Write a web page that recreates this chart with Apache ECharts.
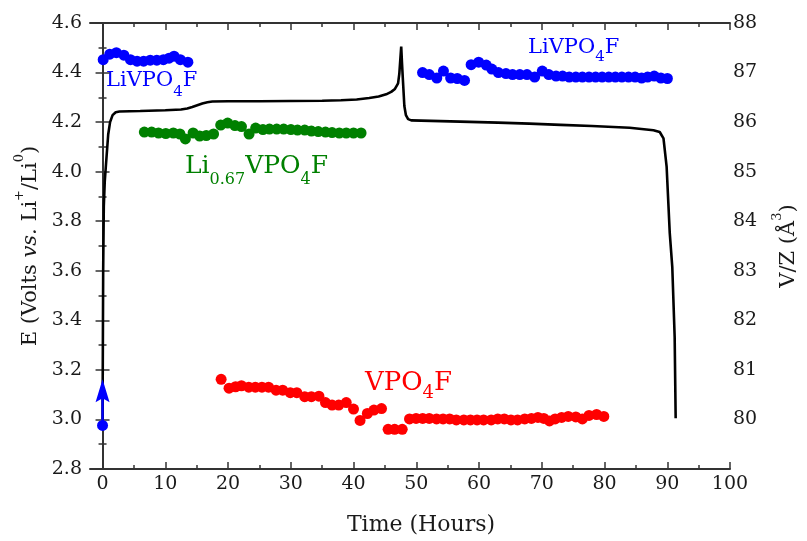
<!DOCTYPE html>
<html><head><meta charset="utf-8">
<script src="https://cdn.jsdelivr.net/npm/echarts@6/dist/echarts.min.js"></script>
<style>html,body{margin:0;padding:0;background:#fff}#c{width:807px;height:541px}</style>
</head><body><div id="c"></div>
<script>
// ---- data ----
const xMajorTicks = [0, 10, 20, 30, 40, 50, 60, 70, 80, 90, 100];
const xMinorTicks = [5, 15, 25, 35, 45, 55, 65, 75, 85, 95];

// Voltage curve (left axis, V)
const curveT = [0, 0.05, 0.1, 0.2, 0.35, 0.55, 0.9, 1.2, 1.6, 2.1, 2.7, 6, 10, 12.5, 13.5, 14.3, 15.1, 15.9, 16.7, 17.5, 20, 25, 30, 35, 38, 40.5, 42.5, 44, 45.2, 46.0, 46.6, 47.1, 47.3, 47.45, 47.6, 47.72, 47.87, 48.1, 48.35, 48.7, 49.2, 57, 63, 68, 73, 78, 84, 87.8, 88.8, 89.4, 89.9, 90.4, 90.8, 91.18, 91.34];
const curveV = [3.0, 3.3, 3.6, 3.86, 3.96, 4.03, 4.15, 4.2, 4.228, 4.24, 4.243, 4.245, 4.248, 4.251, 4.255, 4.261, 4.268, 4.275, 4.28, 4.283, 4.284, 4.284, 4.285, 4.286, 4.288, 4.291, 4.297, 4.303, 4.312, 4.322, 4.334, 4.356, 4.396, 4.45, 4.505, 4.44, 4.37, 4.265, 4.228, 4.212, 4.207, 4.202, 4.198, 4.194, 4.189, 4.184, 4.177, 4.167, 4.16, 4.134, 4.02, 3.752, 3.616, 3.334, 3.005];

// V/Z points (right axis, A^3)
const blueStartT = [0];
const blueStartV = [79.88];
const arrowShaftT = [0, 0];
const arrowShaftV = [79.88, 80.7];
const arrowHeadT = [0];
const arrowHeadV = [80.58];

const blueLeftT = [0.1, 1.15, 2.2, 3.4, 4.45, 5.5, 6.55, 7.6, 8.65, 9.7, 10.6, 11.4, 12.4, 13.6];
const blueLeftV = [87.26, 87.37, 87.40, 87.35, 87.26, 87.23, 87.23, 87.25, 87.25, 87.26, 87.29, 87.33, 87.26, 87.21];

const greenT = [6.66, 7.82, 8.92, 10.08, 11.28, 12.33, 13.2, 14.43, 15.48, 16.53, 17.69, 18.83, 19.94, 21.1, 22.14, 23.35, 24.4, 25.56, 26.6, 27.76, 28.87, 30.02, 31.07, 32.22, 33.28, 34.38, 35.53, 36.58, 37.73, 38.84, 40.0, 41.2];
const greenV = [85.80, 85.80, 85.78, 85.77, 85.78, 85.76, 85.66, 85.78, 85.72, 85.73, 85.76, 85.94, 85.98, 85.93, 85.91, 85.76, 85.88, 85.85, 85.86, 85.86, 85.86, 85.85, 85.84, 85.84, 85.82, 85.81, 85.80, 85.79, 85.78, 85.78, 85.78, 85.78];

const redT = [18.9, 20.16, 21.2, 22.14, 23.3, 24.35, 25.4, 26.46, 27.65, 28.71, 29.92, 30.96, 32.22, 33.28, 34.49, 35.53, 36.58, 37.64, 38.84, 40.0, 41.04, 42.2, 43.25, 44.46, 45.51, 46.55, 47.76,
  48.92, 49.97, 51.02, 52.07, 53.23, 54.27, 55.32, 56.38, 57.58, 58.63, 59.69, 60.73, 61.94, 62.99, 64.03, 65.09, 66.14, 67.29, 68.35, 69.39, 70.33, 71.23, 72.13, 73.17, 74.22, 75.43, 76.47, 77.53, 78.74, 79.89];
const redV = [80.81, 80.63, 80.66, 80.68, 80.65, 80.65, 80.65, 80.65, 80.59, 80.59, 80.54, 80.54, 80.46, 80.46, 80.47, 80.34, 80.29, 80.29, 80.34, 80.21, 79.98, 80.12, 80.19, 80.22, 79.80, 79.80, 79.80,
  80.01, 80.02, 80.02, 80.02, 80.01, 80.01, 80.01, 79.99, 79.99, 79.99, 79.99, 79.99, 79.99, 80.01, 80.01, 79.99, 79.99, 80.01, 80.02, 80.04, 80.02, 79.97, 80.01, 80.04, 80.06, 80.05, 80.01, 80.08, 80.10, 80.06];

const blueRightT = [51.0, 52.07, 53.27, 54.33, 55.48, 56.53, 57.69, 58.74, 59.94, 61.15, 62.04, 63.09, 64.3, 65.35, 66.5, 67.65, 68.87, 70.08, 71.12, 72.28, 73.32, 74.38, 75.43, 76.47, 77.53, 78.58, 79.62, 80.68, 81.73, 82.77, 83.83, 84.88, 85.92, 86.87, 87.92, 88.98, 90.02];
const blueRightV = [87.0, 86.96, 86.89, 87.03, 86.89, 86.88, 86.84, 87.16, 87.21, 87.15, 87.07, 87.0, 86.98, 86.96, 86.96, 86.96, 86.91, 87.03, 86.96, 86.93, 86.93, 86.91, 86.91, 86.91, 86.91, 86.91, 86.91, 86.91, 86.91, 86.91, 86.91, 86.91, 86.89, 86.91, 86.93, 86.89, 86.88];

// ---- helpers ----
const zip = (a, b) => a.map((v, i) => [v, b[i]]);
const FONT = 'DejaVu Serif';
const AX = '#333';
const TXT = '#1a1a1a';
const BLUE = '#0000ff', GREEN = '#008000', RED = '#ff0000';
const DOT = 11;
const ARROW_PATH = 'path://M7,0L14,23L7,19L0,23Z';

function labelRich(M, S, d, color) {
  const P = 0.85 * M + d - 0.8 * S;
  return {
    m: { fontFamily: FONT, fontSize: M, lineHeight: Math.round(M * 1.1), verticalAlign: 'top', color: color },
    s: { fontFamily: FONT, fontSize: S, lineHeight: S, verticalAlign: 'top', padding: [P, 0, 0, 0], color: color }
  };
}
function annot(text, x, baseline, M, S, d, color) {
  return {
    type: 'text', x: x, y: baseline - 0.85 * M, silent: true,
    style: { text: text, rich: labelRich(M, S, d, color), fill: color, verticalAlign: 'top', align: 'left', font: M + 'px "' + FONT + '"' }
  };
}
const titleRich = {
  m: { fontFamily: FONT, fontSize: 21, lineHeight: 23, verticalAlign: 'top', padding: [8, 0, 0, 0], color: TXT },
  i: { fontFamily: FONT, fontSize: 21, fontStyle: 'italic', lineHeight: 23, verticalAlign: 'top', padding: [8, 0, 0, 0], color: TXT },
  p: { fontFamily: FONT, fontSize: 13, lineHeight: 13, verticalAlign: 'top', padding: [1, 0, 0, 0], color: TXT }
};

function xAxisDef(pos, ticks, len, opts) {
  return Object.assign({
    type: 'value', position: pos, min: -2, max: 100,
    axisLine: { show: false },
    axisTick: { show: true, inside: true, length: len, customValues: ticks, lineStyle: { color: AX, width: 1.5 } },
    axisLabel: { show: false },
    splitLine: { show: false }
  }, opts || {});
}
function scatter(name, t, v, color, z, extra) {
  return Object.assign({ type: 'scatter', name: name, xAxisIndex: 0, yAxisIndex: 1, data: zip(t, v), symbolSize: DOT,
    itemStyle: { color: color, opacity: 1 }, silent: true, z: z || 3 }, extra || {});
}

const chart = echarts.init(document.getElementById('c'), null, { renderer: 'canvas' });
chart.setOption({
  animation: false,
  backgroundColor: '#fff',
  grid: { left: 90, right: 69, top: 23, bottom: 72, containLabel: false },
  xAxis: [
    xAxisDef('bottom', xMajorTicks, 7, {
      axisLine: { show: true, lineStyle: { color: AX, width: 2 } },
      axisLabel: { show: true, customValues: xMajorTicks, margin: 6, fontFamily: FONT, fontSize: 19, color: TXT },
      name: 'Time (Hours)', nameLocation: 'middle', nameGap: 45,
      nameTextStyle: { fontFamily: FONT, fontSize: 22, color: TXT, padding: [0, 0, 0, 22] }
    }),
    xAxisDef('bottom', xMinorTicks, 4),
    xAxisDef('top', xMajorTicks, 7, { axisLine: { show: true, lineStyle: { color: AX, width: 2 } } }),
    xAxisDef('top', xMinorTicks, 4)
  ],
  yAxis: [
    {
      type: 'value', position: 'left', min: 2.8, max: 4.6, interval: 0.2,
      axisLine: { show: true, lineStyle: { color: AX, width: 2 } },
      axisTick: { show: true, inside: true, length: 7, lineStyle: { color: AX, width: 1.5 } },
      minorTick: { show: true, splitNumber: 2, length: 4, lineStyle: { color: AX, width: 1.5 } },
      axisLabel: { margin: 8, fontFamily: FONT, fontSize: 19, color: TXT, formatter: v => v.toFixed(1) },
      splitLine: { show: false }, minorSplitLine: { show: false },
      name: '{m|E (Volts }{i|vs.}{m| Li}{p|+}{m|/Li}{p|0}{m|)}',
      nameLocation: 'middle', nameGap: 44, nameRotate: 90,
      nameTextStyle: { rich: titleRich }
    },
    {
      type: 'value', position: 'right', min: 79, max: 88, interval: 1,
      axisLine: { show: true, lineStyle: { color: AX, width: 2 } },
      axisTick: { show: true, inside: true, length: 7, lineStyle: { color: AX, width: 1.5 } },
      minorTick: { show: true, splitNumber: 2, length: 4, lineStyle: { color: AX, width: 1.5 } },
      axisLabel: { margin: 3, fontFamily: FONT, fontSize: 19, color: TXT, formatter: v => (v === 79 ? '' : String(v)) },
      splitLine: { show: false }, minorSplitLine: { show: false },
      name: '{m|V/Z (Å}{p|3}{m|)}',
      nameLocation: 'middle', nameGap: 40, nameRotate: 90,
      nameTextStyle: { rich: titleRich }
    }
  ],
  series: [
    { type: 'line', name: 'E', xAxisIndex: 0, yAxisIndex: 0, data: zip(curveT, curveV), showSymbol: false,
      lineStyle: { color: '#000', width: 2.6 }, silent: true, z: 2 },
    scatter('LiVPO4F a', blueLeftT, blueLeftV, BLUE),
    scatter('Li0.67VPO4F', greenT, greenV, GREEN),
    scatter('VPO4F', redT, redV, RED),
    scatter('LiVPO4F b', blueRightT, blueRightV, BLUE),
    scatter('start', blueStartT, blueStartV, BLUE, 4),
    { type: 'line', name: 'arrow shaft', xAxisIndex: 0, yAxisIndex: 1, silent: true, z: 4,
      data: zip(arrowShaftT, arrowShaftV), showSymbol: false,
      lineStyle: { color: BLUE, width: 2.4 } },
    scatter('arrow head', arrowHeadT, arrowHeadV, BLUE, 5, { symbol: ARROW_PATH, symbolSize: [14, 23], symbolKeepAspect: false })
  ],
  graphic: [
    annot('{m|LiVPO}{s|4}{m|F}', 106, 88, 21, 15, 9, BLUE),
    annot('{m|LiVPO}{s|4}{m|F}', 528, 55, 21, 15, 7, BLUE),
    annot('{m|Li}{s|0.67}{m|VPO}{s|4}{m|F}', 185, 175, 25, 16, 10, GREEN),
    annot('{m|VPO}{s|4}{m|F}', 365, 392, 26, 18, 7, RED)
  ]
});
</script></body></html>
